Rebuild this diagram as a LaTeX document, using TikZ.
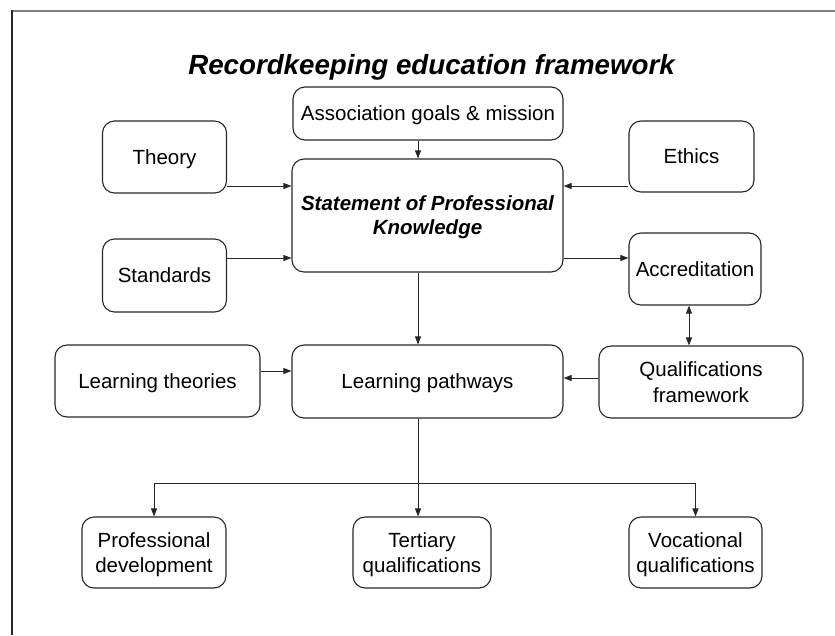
\documentclass[tikz,border=0pt]{standalone}
\usepackage{fontspec}
\setmainfont{Liberation Sans}
\usetikzlibrary{arrows.meta}
\newcommand{\nodesc}[1]{\raisebox{0pt}[\height][0pt]{#1}}
\tikzset{
  box/.style={draw=black!85, line width=1.1pt, rounded corners=12pt, inner sep=0pt,
    align=center, font=\fontsize{20.5}{25.5}\selectfont},
  boldbox/.style={box, font=\fontsize{20.5}{24}\selectfont\bfseries\itshape},
  arr/.style={draw=black!85, line width=0.9pt, -{Triangle[length=8pt,width=6pt]}},
  biarr/.style={draw=black!85, line width=0.9pt, {Triangle[length=8pt,width=6pt]}-{Triangle[length=8pt,width=6pt]}},
  plain/.style={draw=black!85, line width=0.9pt},
}
\begin{document}
\begin{tikzpicture}[x=1pt,y=-1pt]
\useasboundingbox (0,0) rectangle (835,635);
% frame
\draw[gray, line width=2pt] (12,11) -- (835,11);
\draw[black!85, line width=2pt] (12.3,10) -- (12.3,635);
% title
\node[anchor=base, font=\fontsize{27.7}{32}\selectfont\bfseries\itshape] (title) at (431.5,74.5) {Recordkeeping education framework};
% boxes
\node[box, minimum width=270pt, minimum height=53pt] (assoc) at (428,113.5) {\nodesc{Association goals \& mission}};
\node[box, minimum width=124pt, minimum height=72pt] (theory) at (164.5,157) {\nodesc{Theory}};
\node[box, minimum width=125pt, minimum height=71pt] (ethics) at (691.5,156.5) {Ethics};
\node[boldbox, minimum width=271pt, minimum height=113pt] (stmt) at (427.5,215.5) {Statement of Professional\\\nodesc{Knowledge}};
\node[box, minimum width=124pt, minimum height=73pt] (standards) at (164.5,275.5) {Standards};
\node[box, minimum width=132pt, minimum height=72pt] (accr) at (695,269) {Accreditation};
\node[box, minimum width=205pt, minimum height=72pt] (ltheo) at (157.5,381) {\nodesc{Learning theories}};
\node[box, minimum width=271pt, minimum height=73pt] (lpath) at (427.5,381.5) {\nodesc{Learning pathways}};
\node[box, minimum width=204pt, minimum height=72pt] (qual) at (701,382) {Qualifications\\framework};
\node[box, minimum width=144pt, minimum height=71pt] (prof) at (154,552.5) {Professional\\\nodesc{development}};
\node[box, minimum width=138pt, minimum height=71pt] (tert) at (422,552.5) {Tertiary\\\nodesc{qualifications}};
\node[box, minimum width=133pt, minimum height=71pt] (voc) at (695.5,552.5) {Vocational\\\nodesc{qualifications}};
% helper coordinates
\coordinate (cx) at (418,0);
\coordinate (ax) at (689,0);
\coordinate (r1) at (0,186);
\coordinate (r2) at (0,258);
\coordinate (r3) at (0,371);
\coordinate (r4) at (0,378);
\coordinate (bus) at (0,483);
% connectors
\draw[arr] (assoc.south -| cx) -- (stmt.north -| cx);
\draw[arr] (theory.east |- r1) -- (stmt.west |- r1);
\draw[arr] (ethics.west |- r1) -- (stmt.east |- r1);
\draw[arr] (standards.east |- r2) -- (stmt.west |- r2);
\draw[arr] (stmt.east |- r2) -- (accr.west |- r2);
\draw[biarr] (accr.south -| ax) -- (qual.north -| ax);
\draw[arr] (stmt.south -| cx) -- (lpath.north -| cx);
\draw[arr] (ltheo.east |- r3) -- (lpath.west |- r3);
\draw[arr] (qual.west |- r4) -- (lpath.east |- r4);
\draw[plain] (lpath.south -| cx) -- (cx |- bus);
\draw[plain] (prof |- bus) -- (voc |- bus);
\draw[arr] (prof |- bus) -- (prof.north);
\draw[arr] (cx |- bus) -- (tert.north -| cx);
\draw[arr] (voc |- bus) -- (voc.north);
\end{tikzpicture}
\end{document}
